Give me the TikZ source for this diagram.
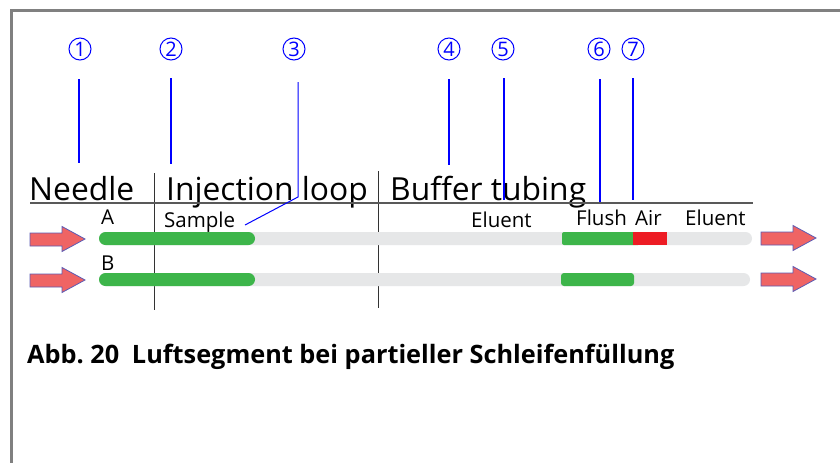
\documentclass[tikz,border=0pt]{standalone}
\usepackage{fontspec}
\setmainfont{Open Sans}
\begin{document}
\begin{tikzpicture}[x=1pt,y=-1pt,
  frame/.style={draw=black!50, line width=3pt},
  numc/.style={circle, draw=blue, line width=1pt, minimum size=22pt, inner sep=0pt, text=blue, font=\fontsize{20}{20}\selectfont},
  leader/.style={draw=blue, line width=2pt},
  thinleader/.style={draw=blue, line width=1pt},
  head/.style={anchor=base west, inner sep=0pt, font=\fontsize{31.8}{32}\selectfont},
  lab/.style={anchor=base west, inner sep=0pt, font=\fontsize{20.5}{20}\selectfont},
  sep/.style={draw=black!80, line width=1pt},
  uline/.style={draw=black!65, line width=1.6pt},
  tube/.style={fill=tubegray},
  arr/.style={fill=arrowfill, draw=arrowline, line width=0.8pt},
]
\definecolor{tubegray}{HTML}{E6E7E8}
\definecolor{tubegreen}{HTML}{3DB54A}
\definecolor{tubered}{HTML}{ED1C24}
\definecolor{arrowfill}{HTML}{EF6464}
\definecolor{arrowline}{HTML}{5B5BB5}
\useasboundingbox (0,0) rectangle (840,463);
\fill[white] (0,0) rectangle (840,463);
% frame
\draw[frame] (840,10) -- (11,10) -- (11,463);

% circled numbers
\node[numc] (c1) at (80,49) {1};
\node[numc] (c2) at (171,49) {2};
\node[numc] (c3) at (294,49) {3};
\node[numc] (c4) at (449,49) {4};
\node[numc] (c5) at (503,49) {5};
\node[numc] (c6) at (599,49) {6};
\node[numc] (c7) at (633,49) {7};

% leader lines
\coordinate (s1) at (79,79);  \coordinate (e1) at (79,163);
\coordinate (s2) at (171,78); \coordinate (e2) at (171,164);
\coordinate (s3) at (298,82); \coordinate (k3) at (298,197); \coordinate (e3) at (245,225);
\coordinate (s4) at (449,79); \coordinate (e4) at (449,165);
\coordinate (s5) at (504,78); \coordinate (e5) at (504,200);
\coordinate (s6) at (600,79); \coordinate (e6) at (600,202);
\coordinate (s7) at (633,78); \coordinate (e7) at (633,200);

% headings
\node[head] (needle) at (29,200) {Needle};
\node[head] (inj) at (166,200) {Injection loop};
\node[head] (buf) at (390,200) {Buffer tubing};

% separators and underline
\coordinate (v1t) at (154,173); \coordinate (v1b) at (154,310);
\coordinate (v2t) at (378,171); \coordinate (v2b) at (378,308);
\coordinate (ul) at (30,203); \coordinate (ur) at (753,203);
\draw[sep] (v1t) -- (v1b);
\draw[sep] (v2t) -- (v2b);
\draw[uline] (ul) -- (ur);

\draw[leader] (s1) -- (e1);
\draw[leader] (s2) -- (e2);
\draw[thinleader] (s3) -- (k3) -- (e3);
\draw[leader] (s4) -- (e4);
\draw[leader] (s5) -- (e5);
\draw[leader] (s6) -- (e6);
\draw[leader] (s7) -- (e7);

% labels
\node[lab] (la) at (101,224) {A};
\node[lab] (lb) at (101,270) {B};
\node[lab] (samp) at (164,227) {Sample};
\node[lab] (el1) at (471,227) {Eluent};
\node[lab] (fl) at (576,225) {Flush};
\node[lab] (air) at (635,225) {Air};
\node[lab] (el2) at (685,225) {Eluent};

% tubes row A
\fill[tube, rounded corners=6.5pt] (99,232) rectangle (752,245);
\fill[tubegreen, rounded corners=6.5pt] (99,232) rectangle (255,245);
\fill[tubegreen, rounded corners=2pt] (562,232) rectangle (640,245);
\fill[tubered] (633,232) rectangle (667,245);
% tubes row B
\fill[tube, rounded corners=6.5pt] (99,273) rectangle (750,286);
\fill[tubegreen, rounded corners=6.5pt] (99,273) rectangle (255,286);
\fill[tubegreen, rounded corners=3pt] (561,273) rectangle (634,286);

% arrows
\draw[arr] (30,233) -- (62,233) -- (62,226.5) -- (85,239) -- (62,251.5) -- (62,246) -- (30,246) -- cycle;
\draw[arr] (30,274) -- (62,274) -- (62,267.5) -- (85,280) -- (62,292.5) -- (62,287) -- (30,287) -- cycle;
\draw[arr] (761,232) -- (793,232) -- (793,225.5) -- (816,238) -- (793,250.5) -- (793,245) -- (761,245) -- cycle;
\draw[arr] (761,273) -- (793,273) -- (793,266.5) -- (816,279) -- (793,291.5) -- (793,286) -- (761,286) -- cycle;

% caption
\node[anchor=base west, inner sep=0pt, font=\bfseries\fontsize{25.3}{25}\selectfont] (cap) at (27,363) {Abb.~20\hspace{0.5em}Luftsegment bei partieller Schleifenfüllung};
\end{tikzpicture}
\end{document}
